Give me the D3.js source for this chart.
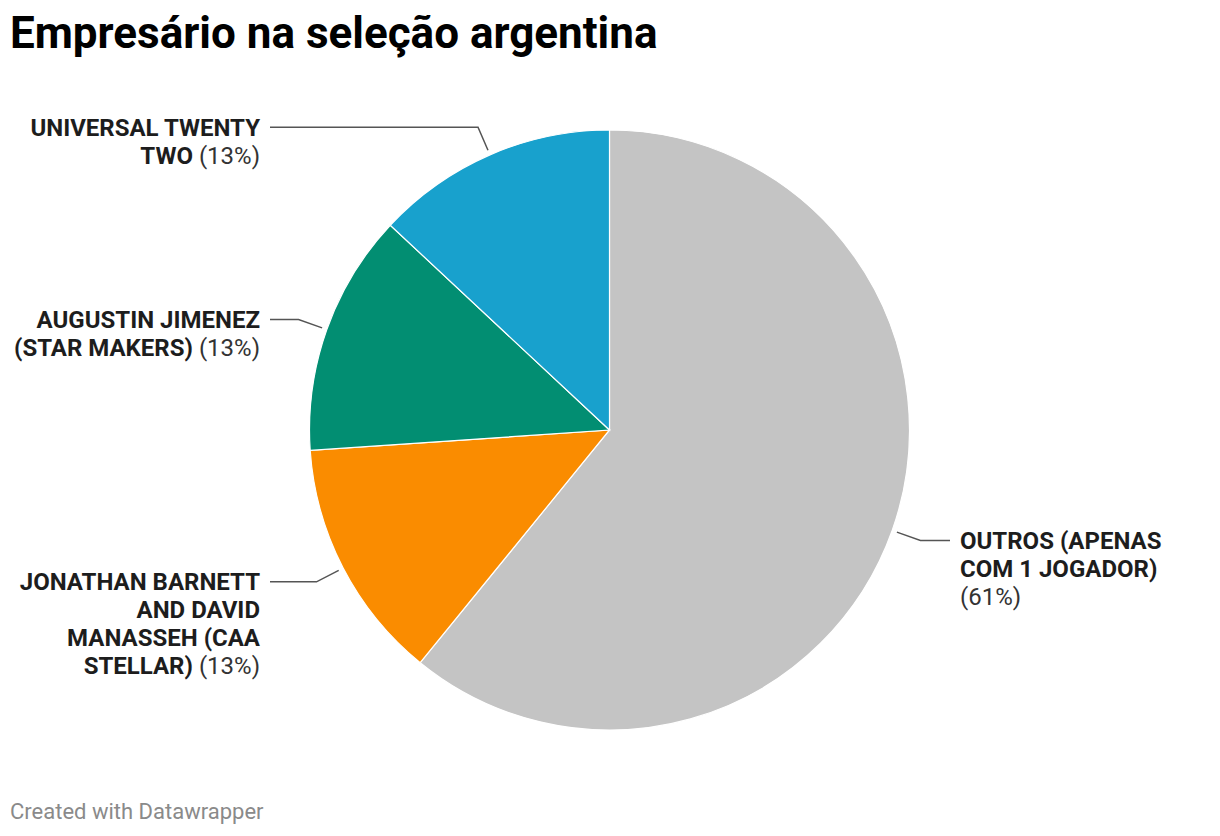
<!DOCTYPE html>
<html>
<head>
<meta charset="utf-8">
<script src="https://cdn.jsdelivr.net/npm/d3@7"></script>
<style>
  html, body { margin: 0; padding: 0; background: #fff; }
  svg { display: block; font-family: Roboto, "Noto Sans", sans-serif; }
</style>
</head>
<body>
<svg id="chart" width="1220" height="836"></svg>
<script>
// ---- data ----
const categories = [
  "OUTROS (APENAS COM 1 JOGADOR)",
  "JONATHAN BARNETT AND DAVID MANASSEH (CAA STELLAR)",
  "AUGUSTIN JIMENEZ (STAR MAKERS)",
  "UNIVERSAL TWENTY TWO"
];
const values = [14, 3, 3, 3];           // players per agent (61% / 13% / 13% / 13%)
const colors = ["#c4c4c4", "#fa8c00", "#028e72", "#18a1cd"];
// wrapped label lines: [bold text, regular text]
const labelLines = [
  [["OUTROS (APENAS", ""], ["COM 1 JOGADOR)", ""], ["", "(61%)"]],
  [["JONATHAN BARNETT", ""], ["AND DAVID", ""], ["MANASSEH (CAA", ""], ["STELLAR)", " (13%)"]],
  [["AUGUSTIN JIMENEZ", ""], ["(STAR MAKERS)", " (13%)"]],
  [["UNIVERSAL TWENTY", ""], ["TWO", " (13%)"]]
];
const title = "Empresário na seleção argentina";
const footer = "Created with Datawrapper";

// ---- layout ----
const svg = d3.select("#chart");
const cx = 609.5, cy = 430, R = 300;

svg.append("text").attr("x", 10).attr("y", 48)
  .attr("font-size", 44).attr("font-weight", 700).attr("fill", "#000")
  .text(title);

svg.append("text").attr("x", 10).attr("y", 819)
  .attr("font-size", 22).attr("fill", "#8a8a8a")
  .text(footer);

const data = categories.map((c, i) => ({ name: c, value: values[i], color: colors[i], lines: labelLines[i] }));
const pie = d3.pie().value(d => d.value).sort(null);
const arcs = pie(data);
const arc = d3.arc().innerRadius(0).outerRadius(R);

const g = svg.append("g").attr("transform", `translate(${cx},${cy})`);
g.selectAll("path.slice").data(arcs).join("path")
  .attr("class", "slice")
  .attr("d", arc)
  .attr("fill", d => d.data.color)
  .attr("stroke", "#fff").attr("stroke-width", 1.2);

const lineH = 28;
arcs.forEach(a => {
  const mid = (a.startAngle + a.endAngle) / 2;
  const sx = Math.sin(mid), sy = -Math.cos(mid);
  const p1 = [sx * (R + 5), sy * (R + 5)];
  const p2 = [sx * (R + 30), sy * (R + 30)];
  const right = sx > 0;
  const lineEnd = right ? 950 - cx : 270 - cx;
  const textX = right ? 960 - cx : 260 - cx;
  g.append("polyline")
    .attr("points", [p1, p2, [lineEnd, p2[1]]].map(p => p.join(",")).join(" "))
    .attr("fill", "none").attr("stroke", "#555").attr("stroke-width", 1.5);
  const t = g.append("text")
    .attr("font-size", 24)
    .attr("text-anchor", right ? "start" : "end");
  a.data.lines.forEach((ln, i) => {
    const ts = t.append("tspan").attr("x", textX).attr("y", p2[1] + 8.5 + i * lineH);
    if (ln[0]) ts.append("tspan").attr("font-weight", 700).attr("fill", "#1d1d1d").text(ln[0]);
    if (ln[1]) ts.append("tspan").attr("font-weight", 400).attr("fill", "#333").text(ln[1]);
  });
});
</script>
</body>
</html>
